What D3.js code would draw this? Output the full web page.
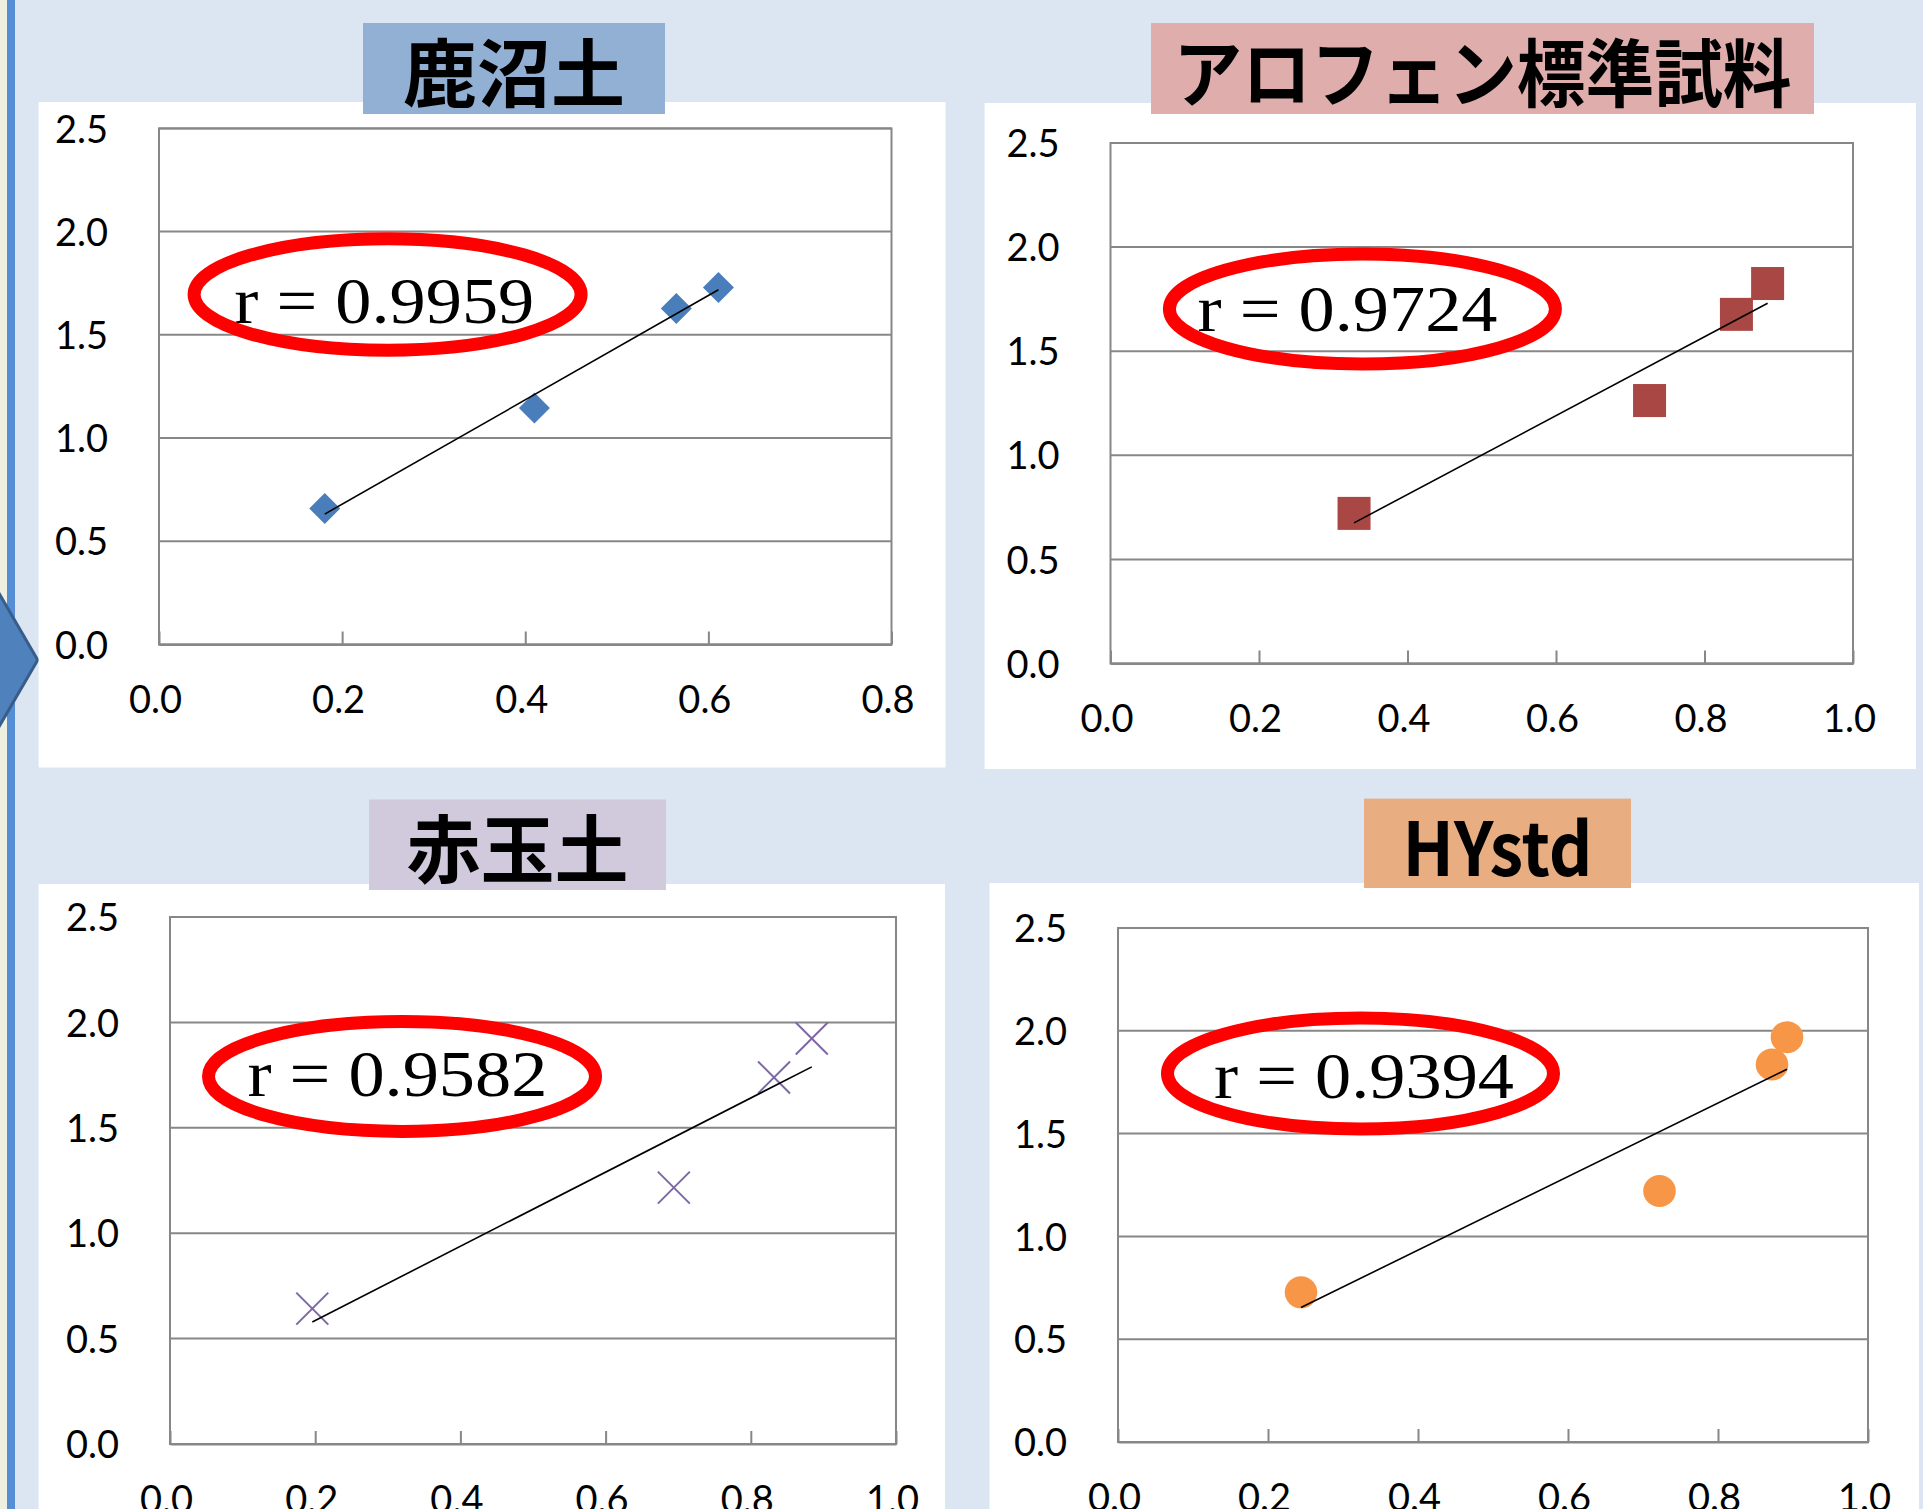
<!DOCTYPE html>
<html>
<head>
<meta charset="utf-8">
<script src="https://cdnjs.cloudflare.com/ajax/libs/d3/7.8.5/d3.min.js"></script>
<style>
  html, body { margin: 0; padding: 0; background: #dce6f2; }
  svg { display: block; }
</style>
</head>
<body>
<svg id="chart" width="1923" height="1509"></svg>
<script>
// Panel titles (top-left, top-right, bottom-left, bottom-right)
const panelTitles = ["鹿沼土", "アロフェン標準試料", "赤玉土", "HYstd"];
const correlationLabels = ["r = 0.9959", "r = 0.9724", "r = 0.9582", "r = 0.9394"];

// Measured pairs for each sample
const kanumaX    = [0.181, 0.410, 0.565, 0.611];
const kanumaY    = [0.659, 1.146, 1.628, 1.729];
const allophaneX = [0.328, 0.726, 0.843, 0.885];
const allophaneY = [0.721, 1.263, 1.677, 1.825];
const akadamaX   = [0.196, 0.694, 0.832, 0.884];
const akadamaY   = [0.642, 1.216, 1.739, 1.924];
const hystdX     = [0.244, 0.722, 0.872, 0.892];
const hystdY     = [0.728, 1.221, 1.836, 1.969];

// Axis ticks
const yTicks      = [0, 0.5, 1.0, 1.5, 2.0, 2.5];
const xTicksShort = [0, 0.2, 0.4, 0.6, 0.8];
const xTicksLong  = [0, 0.2, 0.4, 0.6, 0.8, 1.0];

// Panel layout: card, plot frame, title box, highlight ring and label placement
const panels = [
  { title: panelTitles[0], r: correlationLabels[0], xs: kanumaX, ys: kanumaY, xTicks: xTicksShort,
    marker: "diamond", color: "#4a7ebb", titleFill: "#92afd4",
    card: [38.6, 102, 945.5, 767.5], plot: [159, 128.4, 891.5, 644.5], titleBox: [363, 23, 665, 114],
    ring: { cx: 387.6, cy: 294.5, rx: 193.5, ry: 55.7 }, label: { x: 384.3, y: 323.4 } },
  { title: panelTitles[1], r: correlationLabels[1], xs: allophaneX, ys: allophaneY, xTicks: xTicksLong,
    marker: "square", color: "#a84743", titleFill: "#e0adad", titleLength: 618,
    card: [984.6, 103, 1916, 769], plot: [1110.5, 143, 1853, 663.5], titleBox: [1151, 23, 1814, 114],
    ring: { cx: 1362.4, cy: 309, rx: 193, ry: 55 }, label: { x: 1347.5, y: 330.8 } },
  { title: panelTitles[2], r: correlationLabels[2], xs: akadamaX, ys: akadamaY, xTicks: xTicksLong,
    marker: "cross", color: "#7d68a6", titleFill: "#d0cadc",
    card: [38.6, 884, 945, 1520], plot: [170, 917, 896, 1444], titleBox: [369, 799.5, 666, 890],
    ring: { cx: 402, cy: 1076.4, rx: 193.5, ry: 55 }, label: { x: 397.4, y: 1096 } },
  { title: panelTitles[3], r: correlationLabels[3], xs: hystdX, ys: hystdY, xTicks: xTicksLong,
    marker: "circle", color: "#f79646", titleFill: "#e8ae82", titleLength: 190,
    card: [989.5, 883, 1919, 1520], plot: [1118, 928, 1868, 1442], titleBox: [1364, 798.6, 1631, 888],
    ring: { cx: 1360.5, cy: 1073.5, rx: 193, ry: 55.5 }, label: { x: 1364, y: 1097.5 } }
];

const svg = d3.select("#chart");
const gridColor = "#878787";
const tickFont = "Lato, 'Open Sans', 'DejaVu Sans', sans-serif";

// Page background and left-edge decoration
svg.append("rect").attr("width", 1923).attr("height", 1509).attr("fill", "#dce6f2");
svg.append("rect").attr("x", 0).attr("y", 0).attr("width", 7).attr("height", 1509).attr("fill", "#eef0e0");
svg.append("rect").attr("x", 7).attr("y", 0).attr("width", 8).attr("height", 1509).attr("fill", "#558ed5");
svg.append("polygon")
  .attr("points", "-40,526 37.7,660 -40,794")
  .attr("fill", "#4f81bd").attr("stroke", "#385d8a").attr("stroke-width", 3);

// Least-squares fit for the trend line
function fitLine(xs, ys) {
  const mx = d3.mean(xs), my = d3.mean(ys);
  let sxy = 0, sxx = 0;
  xs.forEach((x, i) => { sxy += (x - mx) * (ys[i] - my); sxx += (x - mx) * (x - mx); });
  const slope = sxy / sxx;
  return { slope, intercept: my - slope * mx };
}

panels.forEach(p => {
  const g = svg.append("g");
  const [cx0, cy0, cx1, cy1] = p.card;
  const [px0, py0, px1, py1] = p.plot;

  // White card
  g.append("rect").attr("x", cx0).attr("y", cy0).attr("width", cx1 - cx0).attr("height", cy1 - cy0)
    .attr("fill", "#ffffff");

  // Title box
  const [tx0, ty0, tx1, ty1] = p.titleBox;
  g.append("rect").attr("x", tx0).attr("y", ty0).attr("width", tx1 - tx0).attr("height", ty1 - ty0)
    .attr("fill", p.titleFill);
  const title = g.append("text")
    .attr("x", (tx0 + tx1) / 2).attr("y", (ty0 + ty1) / 2)
    .attr("text-anchor", "middle").attr("dominant-baseline", "central")
    .attr("font-family", "'Noto Sans CJK JP', 'Noto Sans CJK SC', sans-serif")
    .attr("font-weight", "bold").attr("font-size", 74).attr("fill", "#000")
    .text(p.title);
  if (p.titleLength) title.attr("textLength", p.titleLength).attr("lengthAdjust", "spacingAndGlyphs");

  const xMax = p.xTicks[p.xTicks.length - 1];
  const x = d3.scaleLinear().domain([0, xMax]).range([px0, px1]);
  const y = d3.scaleLinear().domain([0, 2.5]).range([py1, py0]);

  // Horizontal gridlines
  g.append("g").selectAll("line").data(yTicks).join("line")
    .attr("x1", px0).attr("x2", px1).attr("y1", d => y(d)).attr("y2", d => y(d))
    .attr("stroke", gridColor).attr("stroke-width", 2);

  // Plot frame
  g.append("rect").attr("x", px0).attr("y", py0).attr("width", px1 - px0).attr("height", py1 - py0)
    .attr("fill", "none").attr("stroke", gridColor).attr("stroke-width", 2);

  // Bottom axis with inward ticks
  const xAxis = d3.axisBottom(x).tickValues(p.xTicks).tickSizeInner(-13).tickSizeOuter(0)
    .tickFormat(d3.format(".1f")).tickPadding(0);
  const ax = g.append("g").attr("transform", `translate(0,${py1})`).call(xAxis);
  ax.select(".domain").attr("stroke", gridColor).attr("stroke-width", 2);
  ax.selectAll(".tick line").attr("stroke", gridColor).attr("stroke-width", 2);
  ax.selectAll(".tick text")
    .attr("font-family", tickFont).attr("font-size", 38).attr("fill", "#000")
    .attr("x", -4).attr("y", 68.5).attr("dy", null);

  // Left axis labels
  const yAxis = d3.axisLeft(y).tickValues(yTicks).tickSize(0).tickFormat(d3.format(".1f")).tickPadding(51);
  const ay = g.append("g").attr("transform", `translate(${px0},0)`).call(yAxis);
  ay.select(".domain").remove();
  ay.selectAll(".tick text")
    .attr("font-family", tickFont).attr("font-size", 38).attr("fill", "#000")
    .attr("dy", "0.36em");

  const pts = p.xs.map((v, i) => ({ x: v, y: p.ys[i] }));

  // Markers
  const mg = g.append("g");
  if (p.marker === "diamond") {
    mg.selectAll("path").data(pts).join("path")
      .attr("d", d => `M${x(d.x)},${y(d.y) - 15.5}L${x(d.x) + 15.5},${y(d.y)}L${x(d.x)},${y(d.y) + 15.5}L${x(d.x) - 15.5},${y(d.y)}Z`)
      .attr("fill", p.color);
  } else if (p.marker === "square") {
    mg.selectAll("rect").data(pts).join("rect")
      .attr("x", d => x(d.x) - 16.5).attr("y", d => y(d.y) - 16.5)
      .attr("width", 33).attr("height", 33).attr("fill", p.color);
  } else if (p.marker === "cross") {
    mg.selectAll("path").data(pts).join("path")
      .attr("d", d => `M${x(d.x) - 16},${y(d.y) - 16}L${x(d.x) + 16},${y(d.y) + 16}M${x(d.x) + 16},${y(d.y) - 16}L${x(d.x) - 16},${y(d.y) + 16}`)
      .attr("stroke", p.color).attr("stroke-width", 2).attr("fill", "none");
  } else {
    mg.selectAll("ellipse").data(pts).join("ellipse")
      .attr("cx", d => x(d.x)).attr("cy", d => y(d.y)).attr("rx", 16.3).attr("ry", 16)
      .attr("fill", p.color);
  }

  // Linear trend line across the data range
  const fit = fitLine(p.xs, p.ys);
  const xa = d3.min(p.xs), xb = d3.max(p.xs);
  g.append("line")
    .attr("x1", x(xa)).attr("y1", y(fit.intercept + fit.slope * xa))
    .attr("x2", x(xb)).attr("y2", y(fit.intercept + fit.slope * xb))
    .attr("stroke", "#000").attr("stroke-width", 1.6);

  // Correlation coefficient with red ring
  g.append("text")
    .attr("x", p.label.x).attr("y", p.label.y).attr("text-anchor", "middle")
    .attr("font-family", "'Liberation Serif', 'DejaVu Serif', serif").attr("font-size", 66)
    .attr("textLength", 300).attr("lengthAdjust", "spacingAndGlyphs")
    .attr("fill", "#000").text(p.r);
  g.append("ellipse")
    .attr("cx", p.ring.cx).attr("cy", p.ring.cy).attr("rx", p.ring.rx).attr("ry", p.ring.ry)
    .attr("fill", "none").attr("stroke", "#ff0000").attr("stroke-width", 13);
});
</script>
</body>
</html>
